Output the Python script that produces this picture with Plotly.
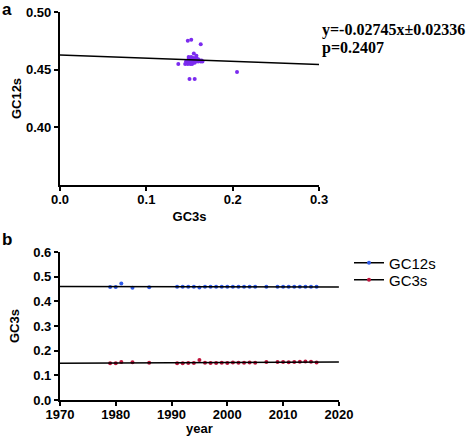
import numpy as np
import plotly.graph_objects as go

# Panel a: GC3s vs GC12s scatter
gc3_a = [0.137, 0.145, 0.146, 0.147, 0.148, 0.148, 0.149, 0.149, 0.150, 0.150, 0.150, 0.151, 0.151,
         0.151, 0.152, 0.152, 0.152, 0.153, 0.153, 0.153, 0.154, 0.154, 0.155, 0.155, 0.155, 0.156,
         0.156, 0.157, 0.157, 0.158, 0.158, 0.159, 0.160, 0.160, 0.161, 0.162, 0.163, 0.164, 0.165,
         0.148, 0.152, 0.163, 0.155, 0.150, 0.156, 0.205, 0.158, 0.149]
gc12_a = [0.455, 0.455, 0.457, 0.456, 0.458, 0.455, 0.457, 0.459, 0.456, 0.458, 0.460, 0.455, 0.457,
          0.459, 0.456, 0.458, 0.461, 0.455, 0.457, 0.459, 0.456, 0.458, 0.457, 0.459, 0.460, 0.456,
          0.458, 0.457, 0.459, 0.458, 0.460, 0.458, 0.457, 0.459, 0.458, 0.458, 0.457, 0.458, 0.457,
          0.475, 0.476, 0.472, 0.464, 0.442, 0.442, 0.448, 0.462, 0.461]
slope_a = -0.02745
intercept_a = 0.4627
line_x_a = [0.0, 0.3]

# Panel b: by year
years = [1979, 1980, 1981, 1983, 1986, 1991, 1992, 1993, 1994, 1995, 1996, 1997, 1998, 1999, 2000,
         2001, 2002, 2003, 2004, 2005, 2007, 2009, 2010, 2011, 2012, 2013, 2014, 2015, 2016]
gc12_b = [0.458, 0.458, 0.472, 0.455, 0.457, 0.459, 0.459, 0.459, 0.459, 0.456, 0.459, 0.459, 0.459,
          0.459, 0.459, 0.459, 0.459, 0.459, 0.459, 0.459, 0.459, 0.459, 0.459, 0.459, 0.459, 0.459,
          0.459, 0.459, 0.459]
gc3_b = [0.149, 0.149, 0.154, 0.153, 0.151, 0.149, 0.149, 0.150, 0.150, 0.162, 0.151, 0.150, 0.150,
         0.151, 0.150, 0.152, 0.151, 0.151, 0.152, 0.151, 0.154, 0.154, 0.154, 0.153, 0.154, 0.155,
         0.156, 0.155, 0.152]
line_x_b = [1970, 2020]

purple = "#7B2BEF"
blue = "#2F5BEA"
red = "#C0143C"

fig = go.Figure()
fig.add_trace(go.Scatter(x=gc3_a, y=gc12_a, mode="markers", marker=dict(color=purple, size=4),
                         showlegend=False, xaxis="x", yaxis="y"))
fig.add_trace(go.Scatter(x=line_x_a, y=[intercept_a + slope_a * v for v in line_x_a], mode="lines",
                         line=dict(color="black", width=1.5), showlegend=False, xaxis="x", yaxis="y"))

yrs = np.array(years, dtype=float)
for vals, col, name, leg in [(gc12_b, blue, "GC12s", "legend"), (gc3_b, red, "GC3s", "legend2")]:
    fig.add_trace(go.Scatter(x=years, y=vals, mode="markers", marker=dict(color=col, size=4),
                             showlegend=False, xaxis="x2", yaxis="y2"))
    m, c = np.polyfit(yrs, np.array(vals), 1)
    fig.add_trace(go.Scatter(x=line_x_b, y=[m * v + c for v in line_x_b], mode="lines",
                             line=dict(color="black", width=1.5), showlegend=False,
                             xaxis="x2", yaxis="y2"))
    fig.add_trace(go.Scatter(x=[None], y=[None], mode="lines+markers", name=name, legend=leg,
                             line=dict(color="black", width=1.5), marker=dict(color=col, size=4),
                             xaxis="x2", yaxis="y2"))

titlefont = dict(family="Liberation Sans, Arial", size=13, color="black", weight="bold")
axcommon = dict(showgrid=False, zeroline=False, showline=True, linecolor="black", linewidth=2,
                ticks="outside", ticklen=4, tickwidth=2, tickcolor="black", automargin=False,
                tickfont=dict(family="Liberation Sans, Arial", size=13, color="black", weight="bold"))

eqfont = dict(family="Liberation Serif, Times New Roman", size=16, color="black", weight="bold")
legfont = dict(family="Liberation Sans, Arial", size=15, color="black")

fig.update_layout(
    width=472, height=436, margin=dict(l=0, r=0, t=0, b=0, autoexpand=False),
    plot_bgcolor="white", paper_bgcolor="white",
    xaxis=dict(domain=[0.127, 0.676], range=[0, 0.3], tickvals=[0, 0.1, 0.2, 0.3],
               ticktext=["0.0", "0.1", "0.2", "0.3"], anchor="y", ticklabelstandoff=-3,
               title=dict(text="GC3s", font=titlefont, standoff=6), **axcommon),
    yaxis=dict(domain=[0.5757, 0.9725], range=[0.35, 0.5], tickvals=[0.40, 0.45, 0.50],
               ticktext=["0.40", "0.45", "0.50"], anchor="x",
               title=dict(text="GC12s", font=titlefont, standoff=1), **axcommon),
    xaxis2=dict(domain=[0.127, 0.718], range=[1970, 2020], tickvals=[1970, 1980, 1990, 2000, 2010, 2020],
                anchor="y2", ticklabelstandoff=-3,
                title=dict(text="year", font=titlefont, standoff=5), **axcommon),
    yaxis2=dict(domain=[0.0826, 0.422], range=[0, 0.6], tickvals=[0, 0.1, 0.2, 0.3, 0.4, 0.5, 0.6],
                ticktext=["0.0", "0.1", "0.2", "0.3", "0.4", "0.5", "0.6"], anchor="x2",
                title=dict(text="GC3s", font=titlefont, standoff=11), **axcommon),
    legend=dict(x=349 / 472, y=1 - 263 / 436, xanchor="left", yanchor="middle",
                font=legfont, bgcolor="rgba(0,0,0,0)", itemwidth=30),
    legend2=dict(x=349 / 472, y=1 - 280 / 436, xanchor="left", yanchor="middle",
                 font=legfont, bgcolor="rgba(0,0,0,0)", itemwidth=30),
    annotations=[
        dict(text="<b>a</b>", x=0.0, y=1.004, xref="paper", yref="paper", xanchor="left", yanchor="top",
             showarrow=False, font=dict(family="Liberation Sans, Arial", size=17, color="black")),
        dict(text="<b>b</b>", x=0.0, y=1 - 228 / 436, xref="paper", yref="paper", xanchor="left",
             yanchor="top", showarrow=False,
             font=dict(family="Liberation Sans, Arial", size=17, color="black")),
        dict(text="y=-0.02745x±0.02336", x=320 / 472, y=1 - 30 / 436, xref="paper",
             yref="paper", xanchor="left", yanchor="middle", align="left", showarrow=False,
             font=eqfont),
        dict(text="p=0.2407", x=320 / 472, y=1 - 48 / 436, xref="paper",
             yref="paper", xanchor="left", yanchor="middle", align="left", showarrow=False,
             font=eqfont),
    ],
)

fig.write_html("out.html", config={"displayModeBar": False},
               post_script="document.body.style.margin='0';document.body.style.padding='0';")
